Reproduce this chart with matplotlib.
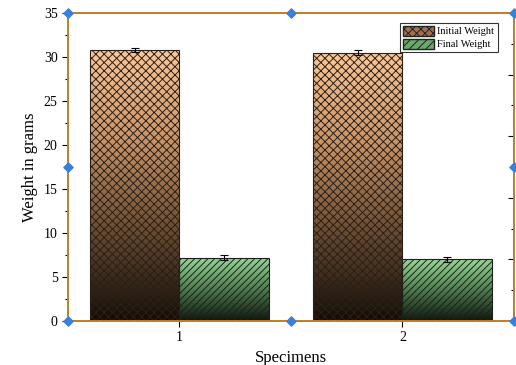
import matplotlib
matplotlib.use("Agg")
import matplotlib.pyplot as plt
import numpy as np
from matplotlib.colors import LinearSegmentedColormap
from matplotlib.patches import Patch

plt.rcParams['font.family'] = ['Liberation Serif', 'DejaVu Serif']
plt.rcParams['hatch.linewidth'] = 0.7

specimens = [1, 2]
initial_weight = [30.8, 30.5]
initial_err = [0.25, 0.3]
final_weight = [7.2, 7.0]
final_err = [0.25, 0.3]

spine_col = '#c0802a'
handle_col = '#3a80d8'

fig = plt.figure(figsize=(5.16, 3.65), dpi=100)
ax = fig.add_axes([0.1318, 0.1205, 0.8642, 0.8439])

x = np.array(specimens, dtype=float)
w = 0.4
b1 = ax.bar(x - w / 2, initial_weight, w, facecolor='none', edgecolor='#2a2018',
            hatch='xxxx', linewidth=0.8, zorder=3)
b2 = ax.bar(x + w / 2, final_weight, w, facecolor='none', edgecolor='#1a221a',
            hatch='/////', linewidth=0.8, zorder=3)
ax.errorbar(x - w / 2, initial_weight, yerr=initial_err, fmt='none', ecolor='black',
            elinewidth=0.8, capsize=3, capthick=0.8, zorder=4)
ax.errorbar(x + w / 2, final_weight, yerr=final_err, fmt='none', ecolor='black',
            elinewidth=0.8, capsize=3, capthick=0.8, zorder=4)

cm_init = LinearSegmentedColormap.from_list('init', ['#120c06', '#6a4c32', '#c89468', '#fcc898'])
cm_fin = LinearSegmentedColormap.from_list('fin', ['#0e160e', '#507c50', '#98d898'])
grad = np.linspace(0, 1, 256).reshape(-1, 1)
for bars, cm in ((b1, cm_init), (b2, cm_fin)):
    for p in bars.patches:
        x0, y0 = p.get_x(), p.get_y()
        im = ax.imshow(grad, cmap=cm, origin='lower', aspect='auto',
                       extent=(x0, x0 + p.get_width(), y0, y0 + p.get_height()),
                       zorder=2, interpolation='bilinear')
        im.set_clip_path(p)

ax.set_xlim(0.5, 2.5)
ax.set_ylim(0, 35)
ax.set_xticks(specimens)
ax.set_xticklabels([str(s) for s in specimens])
ax.set_yticks(np.arange(0, 36, 5))
ax.set_yticks(np.arange(2.5, 35, 5), minor=True)
ax.tick_params(axis='y', which='major', direction='out', length=4, width=0.8, labelsize=10)
ax.tick_params(axis='y', which='minor', direction='out', length=2.5, width=0.8)
ax.tick_params(axis='x', which='major', direction='out', length=4, width=0.8, labelsize=10)
ax.set_xlabel('Specimens', fontsize=12)
ax.set_ylabel('Weight in grams', fontsize=12)

ax2 = ax.twinx()
ax2.set_ylim(0, 10)
ax2.set_yticks([2, 4, 6, 8])
ax2.set_yticks([1, 3, 5, 7, 9], minor=True)
ax2.tick_params(axis='y', which='major', direction='in', length=4, width=0.8, labelright=False)
ax2.tick_params(axis='y', which='minor', direction='in', length=2.5, width=0.8)

for a in (ax, ax2):
    for s in a.spines.values():
        s.set_color(spine_col)
        s.set_linewidth(1.3)

# selection handles on the frame
hx = [0, 0.5, 1, 0, 1, 0, 0.5, 1]
hy = [1, 1, 1, 0.5, 0.5, 0, 0, 0]
ax2.scatter(hx, hy, marker='D', s=22, color=handle_col, transform=ax2.transAxes,
            clip_on=False, zorder=10)

handles = [Patch(facecolor='#a07050', edgecolor='#222222', hatch='xxxx', label='Initial Weight'),
           Patch(facecolor='#68a868', edgecolor='#222222', hatch='////', label='Final Weight')]
leg = ax2.legend(handles=handles, loc='upper right', bbox_to_anchor=(0.975, 0.985),
                 fontsize=7.5, frameon=True, fancybox=False, borderpad=0.3,
                 handlelength=3, handleheight=1.1, handletextpad=0.3, labelspacing=0.2)
leg.get_frame().set_edgecolor('black')
leg.get_frame().set_linewidth(0.8)

fig.savefig('out.png', dpi=100)
